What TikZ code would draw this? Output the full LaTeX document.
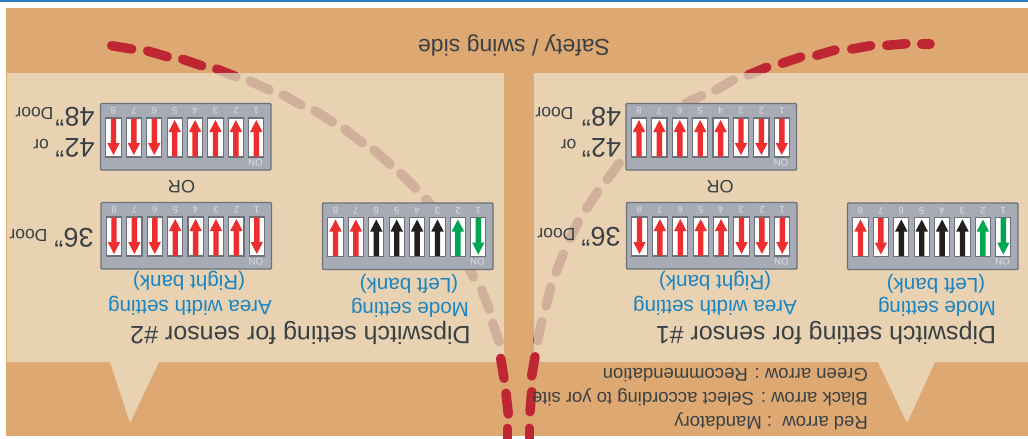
\documentclass[tikz,border=0pt]{standalone}
\usepackage{fontspec}
\setmainfont{Liberation Sans}
\definecolor{panelorange}{HTML}{DEA872}
\definecolor{panelcream}{HTML}{E8D2B2}
\definecolor{topblue}{HTML}{2B7FB8}
\definecolor{boxgray}{HTML}{A7ABB5}
\definecolor{boxedge}{HTML}{6D7278}
\definecolor{inktext}{HTML}{3A4145}
\definecolor{bluetext}{HTML}{1A85C2}
\definecolor{arrowred}{HTML}{EE2E2E}
\definecolor{arrowgreen}{HTML}{00A651}
\definecolor{arrowblack}{HTML}{231F20}
\definecolor{dashred}{HTML}{BE2633}
\definecolor{dashtan}{HTML}{D0B09A}
\definecolor{digitgray}{HTML}{DDDFE3}
\tikzset{
  lab/.style={rotate=180,inner sep=0pt,text=inktext},
  bluelab/.style={rotate=180,inner sep=0pt,text=bluetext,font=\fontsize{20.6}{20}\selectfont},
  titlelab/.style={lab,font=\fontsize{25}{25}\selectfont},
  leglab/.style={lab,anchor=west,font=\fontsize{18.5}{18}\selectfont},
  biglab/.style={lab,font=\fontsize{27}{27}\selectfont},
  smalllab/.style={lab,font=\fontsize{17.5}{17}\selectfont},
  orlab/.style={lab,font=\fontsize{18}{18}\selectfont},
  digitlab/.style={rotate=180,inner sep=0pt,text=digitgray,font=\fontsize{9.5}{9}\selectfont},
  onlab/.style={rotate=180,inner sep=0pt,text=digitgray,font=\fontsize{9.5}{9}\selectfont},
  boxbase/.style={draw=boxedge,fill=boxgray,line width=1.4pt,rounded corners=1pt},
  slotbase/.style={draw=boxedge,fill=white,line width=1.1pt},
  archline/.style={line width=9.5pt,line cap=round},
}
\newcommand{\upperdashes}{111.7/45.7/131.7/49, 147.7/51/167.3/56.7, 182.7/59.3/201.7/65.7, 216.7/69/236/76.7,
  250/81/269.3/90, 283.3/95/301/105, 315/110.7/332.3/121.7, 345/129.3/362.3/142.7, 374/150/390/164.3,
  400.7/173.3/415.7/188.3, 426/199.3/440/216, 464/258/473.3/277, 481.7/290/489.3/309.3, 492.7/323.3/499.3/341.7,
  921.7/44/930/44, 886.7/45.3/906/43.7, 851.7/49/870.7/45.7, 816.7/55.3/835/50, 782.3/63.3/800.7/57,
  748.3/75/766.7/67.3, 715.7/90/733.3/80, 686/103/701.7/95.7, 607.3/179.3/619.3/163.3, 586.7/208.3/597.7/191.7,
  570/238.3/578.3/221.7, 556/272.3/563.3/254, 546/306/550.7/287.3, 537.7/340.7/541.7/321.7}
\newcommand{\lowerdashes}{500.7/358.3/504/378.3, 506/393.3/508.3/414, 507.3/428.3/507.3/445,
  535/356.7/531.7/376, 531.7/391.7/530/411.7, 529.3/428.3/529.3/445}
\newcommand{\leftpanelpath}{(7,73) -- (504,73) -- (504,362) -- (159,362) -- (130,423) -- (110,362) -- (7,362) -- cycle}
\newcommand{\rightpanelpath}{(534,73) -- (1028,73) -- (1028,362) -- (935,362) -- (907,423) -- (878,362) -- (534,362) -- cycle}
% #1 name, #2 left, #3 top, #4 list colour/dir in order 8..1
\newcommand{\dipbox}[4]{%
  \begin{scope}[shift={(#2,#3)}]
    \draw[boxbase] (0,0) rectangle (170.5,66.5);
    \foreach \c/\d [count=\i from 0] in {#4}{
      \pgfmathsetmacro{\sx}{5.4+20.4*\i}
      \pgfmathsetmacro{\cx}{\sx+7.6}
      \pgfmathtruncatemacro{\num}{8-\i}
      \draw[slotbase] (\sx,14.5) rectangle ++(15.2,39);
      \node[digitlab] (#1d\num) at (\cx,7.5) {\num};
      \ifnum\d=1
        \fill[\c] (\cx-2.7,53) -- (\cx-2.7,28.5) -- (\cx-6.2,28.5) -- (\cx,16.5) -- (\cx+6.2,28.5) -- (\cx+2.7,28.5) -- (\cx+2.7,53) -- cycle;
      \else
        \fill[\c] (\cx-2.7,15) -- (\cx-2.7,39.5) -- (\cx-6.2,39.5) -- (\cx,51.5) -- (\cx+6.2,39.5) -- (\cx+2.7,39.5) -- (\cx+2.7,15) -- cycle;
      \fi
    }
    \node[onlab] (#1on) at (155,58.8) {ON};
  \end{scope}
}
\begin{document}
\begin{tikzpicture}[x=1pt,y=-1pt]
\useasboundingbox (0,0) rectangle (1028,439);
\clip (0,0) rectangle (1028,439);
\fill[white] (0,0) rectangle (1028,439);
\fill[topblue] (0,0) rectangle (1028,2);
\fill[panelorange] (6,8) rectangle (1028,436);
\foreach \xa/\ya/\xb/\yb in \upperdashes {\draw[archline,dashred] (\xa,\ya) -- (\xb,\yb);}
\fill[panelcream] \leftpanelpath;
\fill[panelcream] \rightpanelpath;
\begin{scope}
  \clip \leftpanelpath \rightpanelpath;
  \foreach \xa/\ya/\xb/\yb in \upperdashes {\draw[archline,dashtan] (\xa,\ya) -- (\xb,\yb);}
\end{scope}
\foreach \xa/\ya/\xb/\yb in \lowerdashes {\draw[archline,dashred] (\xa,\ya) -- (\xb,\yb);}

\dipbox{la}{100.5}{103.5}{arrowred/0,arrowred/0,arrowred/0,arrowred/1,arrowred/1,arrowred/1,arrowred/1,arrowred/1}
\dipbox{lb}{101}{202.5}{arrowred/0,arrowred/0,arrowred/0,arrowred/1,arrowred/1,arrowred/1,arrowred/1,arrowred/0}
\dipbox{lc}{322.5}{203}{arrowred/1,arrowred/1,arrowblack/1,arrowblack/1,arrowblack/1,arrowblack/1,arrowgreen/1,arrowgreen/0}
\dipbox{ra}{626}{103.5}{arrowred/1,arrowred/1,arrowred/1,arrowred/1,arrowred/1,arrowred/0,arrowred/0,arrowred/0}
\dipbox{rb}{626.5}{202.5}{arrowred/0,arrowred/1,arrowred/1,arrowred/1,arrowred/1,arrowred/0,arrowred/0,arrowred/0}
\dipbox{rc}{847.5}{203}{arrowred/1,arrowred/0,arrowblack/1,arrowblack/1,arrowblack/1,arrowblack/1,arrowgreen/1,arrowgreen/0}

\node[lab,font=\fontsize{23}{23}\selectfont] (safety) at (514,45) {Safety / swing side};
\node[leglab] (leggreen) at (868,375) {Green arrow : Recommendation};
\node[leglab] (legblack) at (868,397) {Black arrow : Select according to yor site};
\node[leglab] (legred) at (868,421) {Red arrow\ \ :\hspace{5.3pt}Mandatory};

\node[titlelab] (titleB) at (300.5,333) {Dipswitch setting for sensor \#2};
\node[titlelab] (titleA) at (826,333) {Dipswitch setting for sensor \#1};
\node[bluelab] (areaB) at (190,306) {Area width setting};
\node[bluelab] (bankRB) at (189,280.5) {(Right bank)};
\node[bluelab] (modeB) at (410,308) {Mode setting};
\node[bluelab] (bankLB) at (409,283.5) {(Left bank)};
\node[bluelab] (areaA) at (715,306) {Area width setting};
\node[bluelab] (bankRA) at (715,280.5) {(Right bank)};
\node[bluelab] (modeA) at (937,307) {Mode setting};
\node[bluelab] (bankLA) at (936,283.5) {(Left bank)};
\node[orlab] (orB) at (181.5,187) {OR};
\node[orlab] (orA) at (720,187) {OR};

\node[biglab] (b48) at (75,117) {48"};
\node[smalllab] (d48) at (34.5,113) {Door};
\node[biglab] (b42) at (75,148) {42"};
\node[smalllab] (or42) at (41,144) {or};
\node[biglab] (b36) at (74,238) {36"};
\node[smalllab] (d36) at (28.5,235) {Door};
\node[biglab] (c48) at (601.5,117) {48"};
\node[smalllab] (e48) at (554.5,113) {Door};
\node[biglab] (c42) at (601.5,148) {42"};
\node[smalllab] (or42b) at (568.5,144) {or};
\node[biglab] (c36) at (601,237) {36"};
\node[smalllab] (e36) at (556.5,234) {Door};
\end{tikzpicture}
\end{document}
